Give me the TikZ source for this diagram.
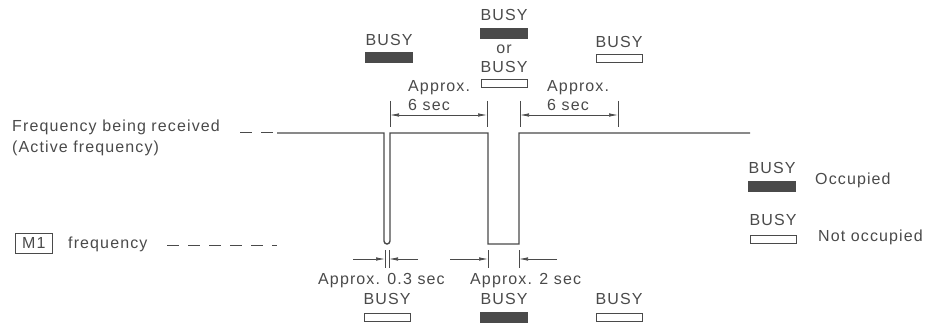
\documentclass[tikz,border=0pt]{standalone}
\usepackage{fontspec}
\setmainfont{Liberation Sans}[LetterSpace=7]
\usetikzlibrary{arrows.meta}
\definecolor{ink}{HTML}{4A4A4A}

\tikzset{
  lbl/.style={inner sep=0pt, text=ink, font=\fontsize{16}{18}\selectfont},
  busyon/.style={fill=ink, draw=ink, minimum width=47pt, minimum height=10pt, inner sep=0pt},
  busyoff/.style={draw=ink, line width=1pt, minimum width=46pt, minimum height=8pt, inner sep=0pt},
  sig/.style={draw=ink, line width=1.4pt},
  lead/.style={draw=ink, line width=1pt, dash pattern=on 12pt off 9pt},
  dim/.style={draw=ink, line width=0.7pt},
  dimarr/.style={dim, -{Latex[length=9pt,width=3.5pt]}},
}

\begin{document}
\begin{tikzpicture}[x=1pt, y=-1pt]
\useasboundingbox (0,0) rectangle (944,323);

% signal
\coordinate (hi0) at (277,133);
\coordinate (hi1) at (750,133);
\draw[sig] (hi0) -- (384,133) {[rounded corners=3pt] -- (384,244) -- (390,244)} -- (390,133)
  -- (488,133) -- (488,244) -- (519,244) -- (519,133) -- (hi1);
\draw[lead] (240,133) -- (hi0);
\draw[lead] (167,245) -- (277,245);

% left labels
\node[lbl, anchor=west] (rx) at (12,127) {Frequency being received};
\node[lbl, anchor=west] (act) at (12,148) {(Active frequency)};
\node[lbl, draw=ink, line width=0.8pt, minimum width=37pt, minimum height=20pt, anchor=west] (m1) at (15,243) {M1};
\node[lbl, anchor=west] (m1f) at (68,244) {frequency};

% top dimensions
\foreach \x [count=\i] in {390,487,520,618} {
  \coordinate (tt\i) at (\x,101);
  \coordinate (tb\i) at (\x,127);
  \draw[dim] (tt\i) -- (tb\i);
}
\coordinate (ta1) at (390,115);
\coordinate (ta2) at (487,115);
\coordinate (ta3) at (520,115);
\coordinate (ta4) at (618,115);
\draw[dim, {Latex[length=9pt,width=3.5pt]}-{Latex[length=9pt,width=3.5pt]}] (ta1) -- (ta2);
\draw[dim, {Latex[length=9pt,width=3.5pt]}-{Latex[length=9pt,width=3.5pt]}] (ta3) -- (ta4);
\node[lbl, anchor=west] (apl) at (408,88) {Approx.};
\node[lbl, anchor=west] (spl) at (408,105) {6 sec};
\node[lbl, anchor=west] (apr) at (547,88) {Approx.};
\node[lbl, anchor=west] (spr) at (547,105) {6 sec};

% bottom dimensions
\foreach \x [count=\i] in {385,389,488,519} {
  \coordinate (bt\i) at (\x,250);
  \coordinate (bb\i) at (\x,268);
  \draw[dim] (bt\i) -- (bb\i);
}
\coordinate (ba1) at (385,259);
\coordinate (ba2) at (389,259);
\coordinate (ba3) at (488,259);
\coordinate (ba4) at (519,259);
\coordinate (bo1) at (353,259);
\coordinate (bo2) at (418,259);
\coordinate (bo3) at (450,259);
\coordinate (bo4) at (557,259);
\draw[dimarr] (bo1) -- (ba1);
\draw[dimarr] (bo2) -- (ba2);
\draw[dimarr] (bo3) -- (ba3);
\draw[dimarr] (bo4) -- (ba4);
\node[lbl, anchor=west] (ap3) at (318,281) {Approx. 0.3 sec};
\node[lbl, anchor=west] (ap2) at (470,281) {Approx. 2 sec};

% top BUSY indicators
\node[lbl] (b1) at (389,40) {BUSY};
\node[busyon] (b1s) at (389,57) {};
\node[lbl] (b2) at (504,15) {BUSY};
\node[busyon] (b2s) at (504,33) {};
\node[lbl] (or) at (504,49) {or};
\node[lbl] (b3) at (504,67) {BUSY};
\node[busyoff] (b3s) at (504,84) {};
\node[lbl] (b4) at (619,42) {BUSY};
\node[busyoff] (b4s) at (619,59) {};

% bottom BUSY indicators
\node[lbl] (b5) at (387,299) {BUSY};
\node[busyoff] (b5s) at (387,317) {};
\node[lbl] (b6) at (504,299) {BUSY};
\node[busyon] (b6s) at (504,317) {};
\node[lbl] (b7) at (619,299) {BUSY};
\node[busyoff] (b7s) at (619,317) {};

% legend
\node[lbl] (l1) at (772,168) {BUSY};
\node[busyon] (l1s) at (772,186) {};
\node[lbl, anchor=west] (occ) at (815,180) {Occupied};
\node[lbl] (l2) at (773,220) {BUSY};
\node[busyoff] (l2s) at (773,239) {};
\node[lbl, anchor=west] (nocc) at (818,237) {Not occupied};
\end{tikzpicture}
\end{document}
